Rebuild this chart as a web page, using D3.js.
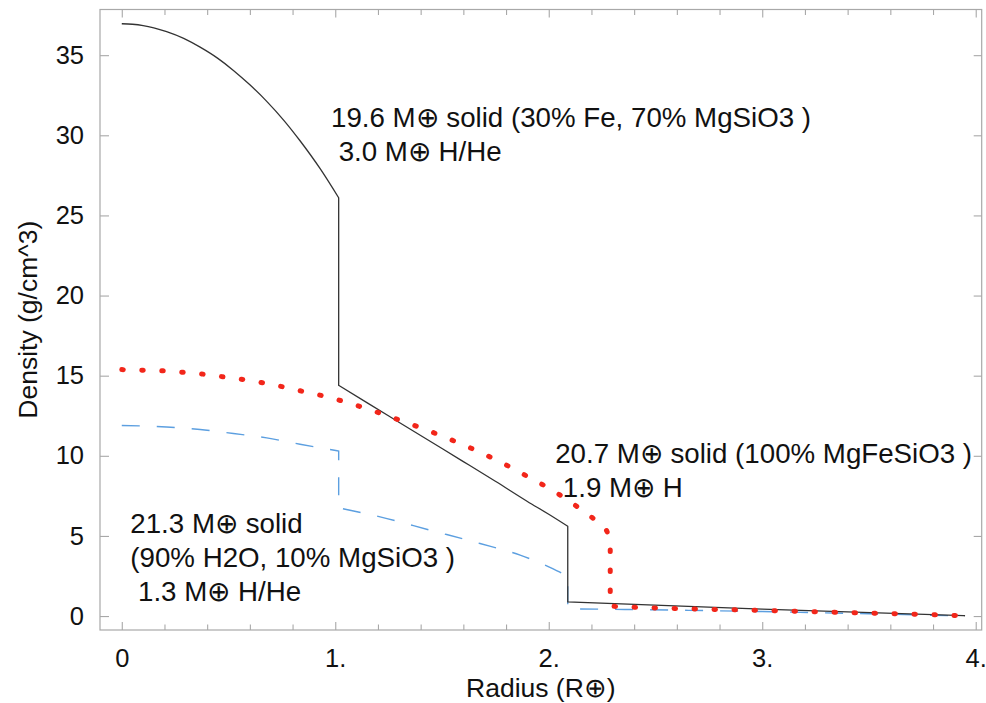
<!DOCTYPE html>
<html>
<head>
<meta charset="utf-8">
<script src="https://cdn.jsdelivr.net/npm/d3@7"></script>
<style>
  html, body { margin: 0; padding: 0; background: #fff; }
  svg { display: block; font-family: "Liberation Sans", Arial, Helvetica, sans-serif; }
</style>
</head>
<body>
<svg id="chart" width="986" height="703"></svg>
<script>
// Density profiles (radius in Earth radii, density in g/cm^3)
const ironRockRadius = [0, 0.05, 0.1, 0.15, 0.21, 0.29, 0.367, 0.45, 0.523, 0.6, 0.679, 0.76, 0.835, 0.93, 1.016,
  1.016, 1.15, 1.3, 1.45, 1.6, 1.75, 1.9, 2.0, 2.089,
  2.089, 3.0, 3.95];
const ironRockDensity = [36.96, 36.93, 36.85, 36.71, 36.47, 36.05, 35.5, 34.8, 34.05, 33.15, 32.12, 30.92, 29.66, 27.9, 26.1,
  14.4, 13.3, 12.08, 10.86, 9.64, 8.41, 7.15, 6.35, 5.6,
  0.88, 0.43, 0.02];

const mgFeRadius = [0, 0.101, 0.195, 0.289, 0.385, 0.479, 0.573, 0.666, 0.76, 0.855, 0.949, 1.043, 1.132, 1.22,
  1.311, 1.402, 1.491, 1.577, 1.667, 1.756, 1.839, 1.923, 2.006, 2.087, 2.167, 2.24, 2.272, 2.288,
  2.288, 2.35, 3.0, 3.5, 3.93];
const mgFeDensity = [15.38, 15.34, 15.3, 15.21, 15.09, 14.92, 14.75, 14.54, 14.29, 14.0, 13.72, 13.38, 13.01, 12.61,
  12.18, 11.74, 11.28, 10.81, 10.29, 9.73, 9.16, 8.54, 7.94, 7.25, 6.5, 5.74, 5.3, 4.7,
  0.62, 0.58, 0.35, 0.19, 0.03];

const waterRadius = [0, 0.21, 0.367, 0.523, 0.679, 0.835, 0.93, 1.016,
  1.016, 1.21, 1.444, 1.678, 1.866, 1.98, 2.05, 2.089,
  2.089, 2.3, 3.0, 3.5, 3.95];
const waterDensity = [11.89, 11.8, 11.64, 11.39, 11.12, 10.72, 10.5, 10.3,
  6.75, 6.19, 5.36, 4.53, 3.8, 3.2, 2.75, 2.45,
  0.45, 0.42, 0.28, 0.14, 0.0];

// Axis ticks
const xMajorTicks = [0, 1, 2, 3, 4];
const xTickLabels = ["0", "1.", "2.", "3.", "4."];
const xMinorTicks = [0.2, 0.4, 0.6, 0.8, 1.2, 1.4, 1.6, 1.8, 2.2, 2.4, 2.6, 2.8, 3.2, 3.4, 3.6, 3.8];
const yMajorTicks = [0, 5, 10, 15, 20, 25, 30, 35];
const yTickLabels = ["0", "5", "10", "15", "20", "25", "30", "35"];

// Annotation text, one array of lines per model
const annotationLines = [
  ["19.6 M\u2295 solid (30% Fe, 70% MgSiO3 )", " 3.0 M\u2295 H/He"],
  ["20.7 M\u2295 solid (100% MgFeSiO3 )", " 1.9 M\u2295 H"],
  ["21.3 M\u2295 solid", "(90% H2O, 10% MgSiO3 )", " 1.3 M\u2295 H/He"]
];
// Baseline anchor of each annotation's first line, in data units
const annotationAnchors = [[0.98, 30.5], [2.03, 9.55], [0.04, 5.2]];

const svg = d3.select("#chart");
const plotLeft = 100, plotRight = 981.7, plotTop = 9.5, plotBottom = 630;

const x = d3.scaleLinear().domain([-0.102, 4.028]).range([plotLeft, plotRight]);
const y = d3.scaleLinear().domain([-0.87, 37.85]).range([plotBottom, plotTop]);

const frameColor = "#a8a8a8";
const font = "Liberation Sans, Arial, Helvetica, sans-serif";

// Frame
svg.append("rect")
  .attr("x", plotLeft).attr("y", plotTop)
  .attr("width", plotRight - plotLeft).attr("height", plotBottom - plotTop)
  .attr("fill", "none").attr("stroke", frameColor).attr("stroke-width", 1.2);

function styleAxis(g) {
  g.select(".domain").remove();
  g.selectAll(".tick line").attr("stroke", frameColor).attr("stroke-width", 1.1);
  g.selectAll(".tick text").attr("fill", "#111").attr("font-size", 25.5)
    .attr("font-family", font);
}

// Bottom axis
svg.append("g").attr("transform", `translate(0,${plotBottom})`)
  .call(d3.axisBottom(x).tickValues(xMajorTicks).tickSize(-8).tickPadding(19)
    .tickFormat((d, i) => xTickLabels[i]))
  .call(styleAxis);
svg.append("g").attr("transform", `translate(0,${plotBottom})`)
  .call(d3.axisBottom(x).tickValues(xMinorTicks).tickSize(-5.5).tickFormat(""))
  .call(styleAxis);

// Top axis
svg.append("g").attr("transform", `translate(0,${plotTop})`)
  .call(d3.axisTop(x).tickValues(xMajorTicks).tickSize(-8).tickFormat(""))
  .call(styleAxis);
svg.append("g").attr("transform", `translate(0,${plotTop})`)
  .call(d3.axisTop(x).tickValues(xMinorTicks).tickSize(-5.5).tickFormat(""))
  .call(styleAxis);

// Left axis
svg.append("g").attr("transform", `translate(${plotLeft},0)`)
  .call(d3.axisLeft(y).tickValues(yMajorTicks).tickSize(-9).tickPadding(16)
    .tickFormat((d, i) => yTickLabels[i]))
  .call(styleAxis);

// Right axis
svg.append("g").attr("transform", `translate(${plotRight},0)`)
  .call(d3.axisRight(y).tickValues(yMajorTicks).tickSize(-8).tickFormat(""))
  .call(styleAxis);

// Axis titles
svg.append("text")
  .attr("x", (plotLeft + plotRight) / 2).attr("y", 697)
  .attr("text-anchor", "middle").attr("font-size", 26.5).attr("fill", "#111")
  .text("Radius (R\u2295)");
svg.append("text")
  .attr("transform", `translate(37,${(plotTop + plotBottom) / 2}) rotate(-90)`)
  .attr("text-anchor", "middle").attr("font-size", 26.5).attr("fill", "#111")
  .text("Density (g/cm^3)");

// Curves: each profile is split at its density jumps; every piece is smoothed
// and the pieces are joined with straight vertical drops into one path.
const zip = (a, b) => a.map((v, i) => [v, b[i]]);
const smooth = d3.line().x(d => x(d[0])).y(d => y(d[1])).curve(d3.curveMonotoneX);

function profilePath(pts) {
  const pieces = [];
  let cur = [pts[0]];
  for (let i = 1; i < pts.length; i++) {
    if (pts[i][0] === pts[i - 1][0]) { pieces.push(cur); cur = [pts[i]]; }
    else cur.push(pts[i]);
  }
  pieces.push(cur);
  return pieces.map((p, i) => {
    const d = p.length > 1 ? smooth(p) : `M${x(p[0][0])},${y(p[0][1])}`;
    return i === 0 ? d : "L" + d.slice(1);
  }).join("");
}

svg.append("path")
  .attr("d", profilePath(zip(waterRadius, waterDensity)))
  .attr("fill", "none").attr("stroke", "#5c9fe0").attr("stroke-width", 1.4)
  .attr("stroke-dasharray", "18 17");

svg.append("path")
  .attr("d", profilePath(zip(ironRockRadius, ironRockDensity)))
  .attr("fill", "none").attr("stroke", "#333").attr("stroke-width", 1.3);

svg.append("path")
  .attr("d", profilePath(zip(mgFeRadius, mgFeDensity)))
  .attr("fill", "none").attr("stroke", "#f2261a").attr("stroke-width", 5)
  .attr("stroke-linecap", "round")
  .attr("stroke-dasharray", "1.5 18.5");

// Annotations
annotationLines.forEach((lines, k) => {
  const [ax, ay] = annotationAnchors[k];
  const t = svg.append("text")
    .attr("x", x(ax)).attr("y", y(ay))
    .attr("font-size", 27.7).attr("fill", "#111")
    .style("white-space", "pre");
  lines.forEach((s, i) => {
    t.append("tspan").attr("x", x(ax)).attr("dy", i === 0 ? 0 : 34).text(s);
  });
});
</script>
</body>
</html>
